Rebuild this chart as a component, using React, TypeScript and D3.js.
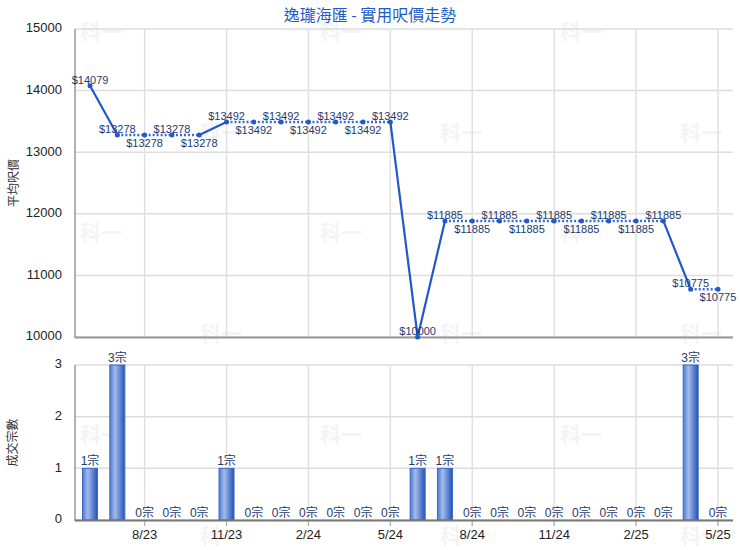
import React from 'react';
import * as d3 from 'd3';

const months = ['6/23','7/23','8/23','9/23','10/23','11/23','12/23','1/24','2/24','3/24','4/24','5/24','6/24','7/24','8/24','9/24','10/24','11/24','12/24','1/25','2/25','3/25','4/25','5/25'];
const prices = [14079,13278,13278,13278,13278,13492,13492,13492,13492,13492,13492,13492,10000,11885,11885,11885,11885,11885,11885,11885,11885,11885,10775,10775];
const counts = [1,3,0,0,0,1,0,0,0,0,0,0,1,1,0,0,0,0,0,0,0,0,3,0];
const xTickLabels = ['8/23','11/23','2/24','5/24','8/24','11/24','2/25','5/25'];
const priceTicks = [10000,11000,12000,13000,14000,15000];
const countTicks = [0,1,2,3];
const title = '逸瓏海匯 - 實用呎價走勢';
const priceAxisTitle = '平均呎價';
const countAxisTitle = '成交宗數';
const watermark = '科一';

const W = 740, H = 550;
const L = 75, R = 733;
const font = '"Liberation Sans", Arial, "Noto Sans CJK TC", sans-serif';
const labelColor = '#1c3a6e';
const lineColor = '#2458c8';

export default function App() {
  const x = d3.scalePoint<string>().domain(months).range([L, R]).padding(0.55);
  const yP = d3.scaleLinear().domain([10000, 15000]).range([337, 29]);
  const yC = d3.scaleLinear().domain([0, 3]).range([520, 365]);

  // label placement: alternate above/below within runs of equal values
  const above: boolean[] = [];
  prices.forEach((p, i) => {
    if (i === 0 || p !== prices[i - 1]) above.push(true);
    else above.push(!above[i - 1]);
  });

  const wm: { x: number; y: number }[] = [];
  for (let r = 0; r < 6; r++) {
    for (let c = 0; c < 3; c++) {
      wm.push({ x: (r % 2 === 0 ? 80 : 200) + c * 240, y: 33 + r * 100.8 });
    }
  }

  const barW = 15;

  return (
    <svg width={W} height={H} style={{ position: 'absolute', left: 0, top: 0, background: '#fff' }} fontFamily={font}>
      <defs>
        <linearGradient id="barGrad" x1="0" x2="1" y1="0" y2="0">
          <stop offset="0%" stopColor="#4f7bd0" />
          <stop offset="35%" stopColor="#a3bbec" />
          <stop offset="100%" stopColor="#2352b8" />
        </linearGradient>
      </defs>
      {wm.map((d, i) => (
        <text key={'wm' + i} x={d.x} y={d.y} dominantBaseline="middle" fontSize={21} fontWeight="bold" fill="#f4f4f4"
          fontFamily='"Noto Sans CJK TC", sans-serif'>{watermark}</text>
      ))}
      <text x={370} y={21} textAnchor="middle" fontSize={16} fill="#1f5bc8" fontFamily='"Noto Sans CJK TC", sans-serif'>{title}</text>

      {/* top chart grid */}
      {priceTicks.map(t => (
        <line key={'pg' + t} x1={L} x2={R} y1={yP(t)} y2={yP(t)} stroke="#dddddd" strokeWidth={1.5} />
      ))}
      {xTickLabels.map(m => (
        <line key={'vg' + m} x1={x(m)} x2={x(m)} y1={yP(15000)} y2={yP(10000)} stroke="#e0e0e0" strokeWidth={1.5} />
      ))}
      {priceTicks.map(t => (
        <text key={'pt' + t} x={62} y={yP(t)} textAnchor="end" dominantBaseline="middle" fontSize={13} fill="#222">{t}</text>
      ))}
      <line x1={L} x2={L} y1={yP(15000)} y2={yP(10000) + 1} stroke="#999" strokeWidth={1.5} />
      <line x1={L} x2={R} y1={yP(10000) + 0.5} y2={yP(10000) + 0.5} stroke="#999" strokeWidth={2} />
      <text transform={`translate(15,${(yP(15000) + yP(10000)) / 2}) rotate(-90)`} textAnchor="middle" dominantBaseline="middle"
        fontSize={12} fill="#333" fontFamily='"Noto Sans CJK TC", sans-serif'>{priceAxisTitle}</text>

      {/* line segments */}
      {prices.slice(0, -1).map((p, i) => {
        const same = p === prices[i + 1];
        return (
          <line key={'seg' + i} x1={x(months[i])} y1={yP(p)} x2={x(months[i + 1])} y2={yP(prices[i + 1])}
            stroke={same ? '#3a6ad8' : lineColor} strokeWidth={same ? 2.5 : 2.2}
            strokeDasharray={same ? '2 2' : undefined} />
        );
      })}
      {prices.map((p, i) => (
        <circle key={'pt' + i} cx={x(months[i])} cy={yP(p)} r={2.5} fill={lineColor} />
      ))}
      {prices.map((p, i) => (
        <text key={'pl' + i} x={x(months[i])} y={above[i] ? yP(p) - 2 : yP(p) + 12} textAnchor="middle"
          fontSize={11} fill={labelColor}>{'$' + p}</text>
      ))}

      {/* bottom chart */}
      {countTicks.map(t => (
        <line key={'cg' + t} x1={L} x2={R} y1={yC(t)} y2={yC(t)} stroke="#dddddd" strokeWidth={1.5} />
      ))}
      {xTickLabels.map(m => (
        <line key={'vg2' + m} x1={x(m)} x2={x(m)} y1={yC(3)} y2={yC(0) + 6} stroke="#e0e0e0" strokeWidth={1.5} />
      ))}
      {xTickLabels.map(m => (
        <line key={'tk' + m} x1={x(m)} x2={x(m)} y1={yC(0)} y2={yC(0) + 6} stroke="#aaa" strokeWidth={1} />
      ))}
      {countTicks.map(t => (
        <text key={'ct' + t} x={62} y={yC(t)} textAnchor="end" dominantBaseline="middle" fontSize={13} fill="#222">{t}</text>
      ))}
      {counts.map((c, i) => c > 0 ? (
        <rect key={'bar' + i} x={(x(months[i]) as number) - barW / 2} y={yC(c)} width={barW} height={yC(0) - yC(c)}
          fill="url(#barGrad)" stroke="#3b68c6" strokeWidth={1} />
      ) : null)}
      {counts.map((c, i) => (
        <text key={'bl' + i} x={x(months[i])} y={yC(c) - 3} textAnchor="middle" fontSize={12} fill={labelColor}>
          <tspan>{c}</tspan><tspan fontFamily='"Noto Sans CJK TC", sans-serif'>宗</tspan>
        </text>
      ))}
      <line x1={L} x2={L} y1={yC(3)} y2={yC(0) + 1} stroke="#999" strokeWidth={1.5} />
      <line x1={L} x2={R} y1={yC(0) + 0.5} y2={yC(0) + 0.5} stroke="#777" strokeWidth={2} />
      {xTickLabels.map(m => (
        <text key={'xl' + m} x={x(m)} y={539} textAnchor="middle" fontSize={13} fill="#222">{m}</text>
      ))}
      <text transform={`translate(14,${(yC(3) + yC(0)) / 2}) rotate(-90)`} textAnchor="middle" dominantBaseline="middle"
        fontSize={12} fill="#333" fontFamily='"Noto Sans CJK TC", sans-serif'>{countAxisTitle}</text>
    </svg>
  );
}
